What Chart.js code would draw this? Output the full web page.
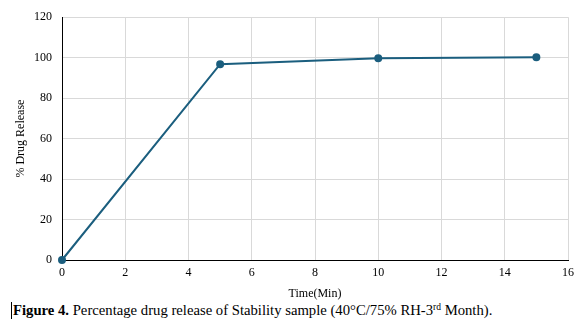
<!DOCTYPE html>
<html lang="en">
<head>
    <meta charset="UTF-8">
    <title>Percentage drug release</title>
    <script src="https://cdn.jsdelivr.net/npm/chart.js"></script>
    <style>
        body { margin: 0; background: #fff; }
        #wrap { position: relative; width: 585px; height: 301px; }
        .caption {
            font-family: "Liberation Serif", "Times New Roman", serif;
            font-size: 14.7px;
            color: #000;
            margin: 0 0 0 11px;
            padding-left: 1px;
            border-left: 1px solid #000;
            line-height: 17px;
            display: inline-block;
        }
        .caption sup { font-size: 9.5px; vertical-align: 5px; line-height: 0; }
    </style>
</head>
<body>
    <div id="wrap">
        <canvas id="releaseChart" width="585" height="301"></canvas>
    </div>
    <div class="caption"><b>Figure 4.</b> Percentage drug release of Stability sample (40°C/75% RH-3<sup>rd</sup> Month).</div>

    <script>
        // data
        var timeMin = [0, 5, 10, 15];
        var releasePct = [0, 96.8, 99.7, 100.2];

        var serif = '"Liberation Serif", "Times New Roman", serif';
        var lineColor = '#1b5e7e';

        var points = timeMin.map(function(t, i) {
            return { x: t, y: releasePct[i] };
        });

        var ctx = document.getElementById('releaseChart').getContext('2d');
        var chart = new Chart(ctx, {
            type: 'line',
            data: {
                datasets: [{
                    label: '% Drug Release',
                    data: points,
                    borderColor: lineColor,
                    backgroundColor: lineColor,
                    borderWidth: 2,
                    pointRadius: 3,
                    pointHoverRadius: 3,
                    fill: false,
                    tension: 0,
                    clip: false
                }]
            },
            options: {
                responsive: false,
                animation: false,
                layout: { padding: { left: 0, right: 17, top: 14, bottom: 0 } },
                plugins: {
                    legend: { display: false },
                    tooltip: { enabled: false }
                },
                scales: {
                    x: {
                        type: 'linear',
                        min: 0,
                        max: 16,
                        ticks: {
                            stepSize: 2,
                            color: '#000',
                            padding: 6,
                            font: { family: serif, size: 12 }
                        },
                        grid: { color: '#d9d9d9', drawTicks: false },
                        border: { color: '#000', width: 1 },
                        title: {
                            display: true,
                            text: 'Time(Min)',
                            color: '#000',
                            padding: { top: 3, bottom: 0 },
                            font: { family: serif, size: 12 }
                        },
                        afterFit: function(scale) { scale.height = 41; }
                    },
                    y: {
                        min: 0,
                        max: 120,
                        ticks: {
                            stepSize: 20,
                            color: '#000',
                            padding: 10,
                            font: { family: serif, size: 12 }
                        },
                        grid: { color: '#d9d9d9', drawTicks: false },
                        border: { color: '#000', width: 1 },
                        title: {
                            display: true,
                            text: '% Drug Release',
                            color: '#000',
                            padding: { top: 14, bottom: 0 },
                            font: { family: serif, size: 12 }
                        },
                        afterFit: function(scale) { scale.width = 62; }
                    }
                }
            }
        });
    </script>
</body>
</html>
